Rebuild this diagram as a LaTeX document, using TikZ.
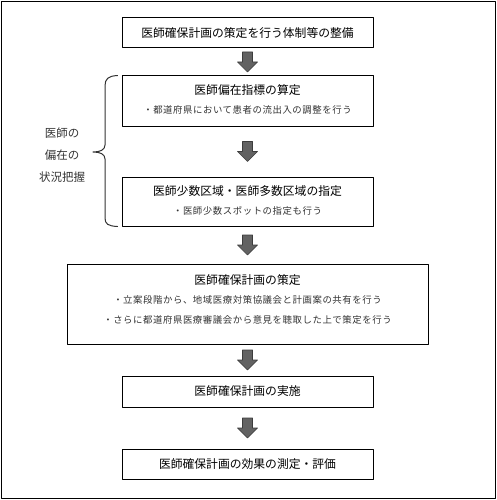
\documentclass[tikz,border=0pt]{standalone}
\usepackage{fontspec}
\newfontfamily\jpfont{Noto Sans CJK JP}
\newfontfamily\jpsubfont[LetterSpace=6]{Noto Sans CJK JP}
\usepackage{tikz}
\usetikzlibrary{positioning}
\usetikzlibrary{calc}
\definecolor{arrowgray}{HTML}{626262}
\definecolor{arrowedge}{HTML}{3C3C3C}
\definecolor{subgray}{HTML}{333333}

\tikzset{
	box/.style={draw=black, line width=1.pt, minimum width=251, minimum height=30, inner sep=0pt},
	headtext/.style={font=\jpfont\fontsize{11.8}{14}\selectfont, text=black, inner sep=0pt},
	subtext/.style={font=\jpsubfont\fontsize{9.4}{12}\selectfont, text=subgray, inner sep=0pt},
	blockdown/.pic={\filldraw[fill=arrowgray, draw=arrowedge, line width=0.6pt] (-5,-10) -- (5,-10) -- (5,0) -- (10,0) -- (0,10) -- (-10,0) -- (-5,0) -- cycle;}
}

\begin{document}
\begin{tikzpicture}[line cap=round,line join=round,x=1pt,y=-1pt]
	\useasboundingbox (0,0) rectangle (497,500);
	\draw [line width=1.2pt] (1.5,1.5) rectangle (495.5,498.5);
	
	% boxes
	\node[box, headtext] (b1) at (247.5,33) {医師確保計画の策定を行う体制等の整備};
	\node[box, minimum height=50] (b2) at (247.5,101) {};
	\node[box, minimum height=49] (b3) at (247.5,201.5) {};
	\node[box, minimum width=361, minimum height=80] (b4) at (247.5,304) {};
	\node[box, headtext, minimum height=31] (b5) at (247.5,391.5) {医師確保計画の実施};
	\node[box, headtext] (b6) at (247.5,464) {医師確保計画の効果の測定・評価};
	
	% texts in the boxes
	\node[headtext] (h2) at (247.5,90) {医師偏在指標の算定};
	\node[subtext] (s2) at (247.5,110) {・都道府県において患者の流出入の調整を行う};
	
	\node[headtext] (h3) at (247.5,191) {医師少数区域・医師多数区域の指定};
	\node[subtext] (s3) at (247.5,211) {・医師少数スポットの指定も行う};
	
	\node[headtext] (h4) at (247.5,280) {医師確保計画の策定};
	\node[subtext] (s4a) at (247.5,300) {・立案段階から、地域医療対策協議会と計画案の共有を行う};
	\node[subtext] (s4b) at (247.5,320) {・さらに都道府県医療審議会から意見を聴取した上で策定を行う};
	
	% arrows
	\pic at ($(b1.south)!0.5!(b2.north)$) {blockdown};
	\pic at ($(b2.south)!0.5!(b3.north)$) {blockdown};
	\pic at ($(b3.south)!0.5!(b4.north)$) {blockdown};
	\pic at ($(b4.south)!0.5!(b5.north)$) {blockdown};
	\pic at ($(b5.south)!0.5!(b6.north)$) {blockdown};
	
	% brace
	\draw [line width=1.pt, color=subgray] (b2.north west) ++(-4,0) .. controls (108,76) and (105,79) .. (105,86) -- (105,145) .. controls (105,150) and (100,152) .. (93,152) coordinate (tip) .. controls (100,152) and (105,154) .. (105,159) -- (105,218) .. controls (105,224) and (108,226) .. ($(b3.south west)+(-4,0)$);
	\node[headtext, text=subgray, align=center, font=\jpfont\fontsize{11.5}{22}\selectfont] (lbl) at (62,155) {医師の\\偏在の\\状況把握};
\end{tikzpicture}
\end{document}
